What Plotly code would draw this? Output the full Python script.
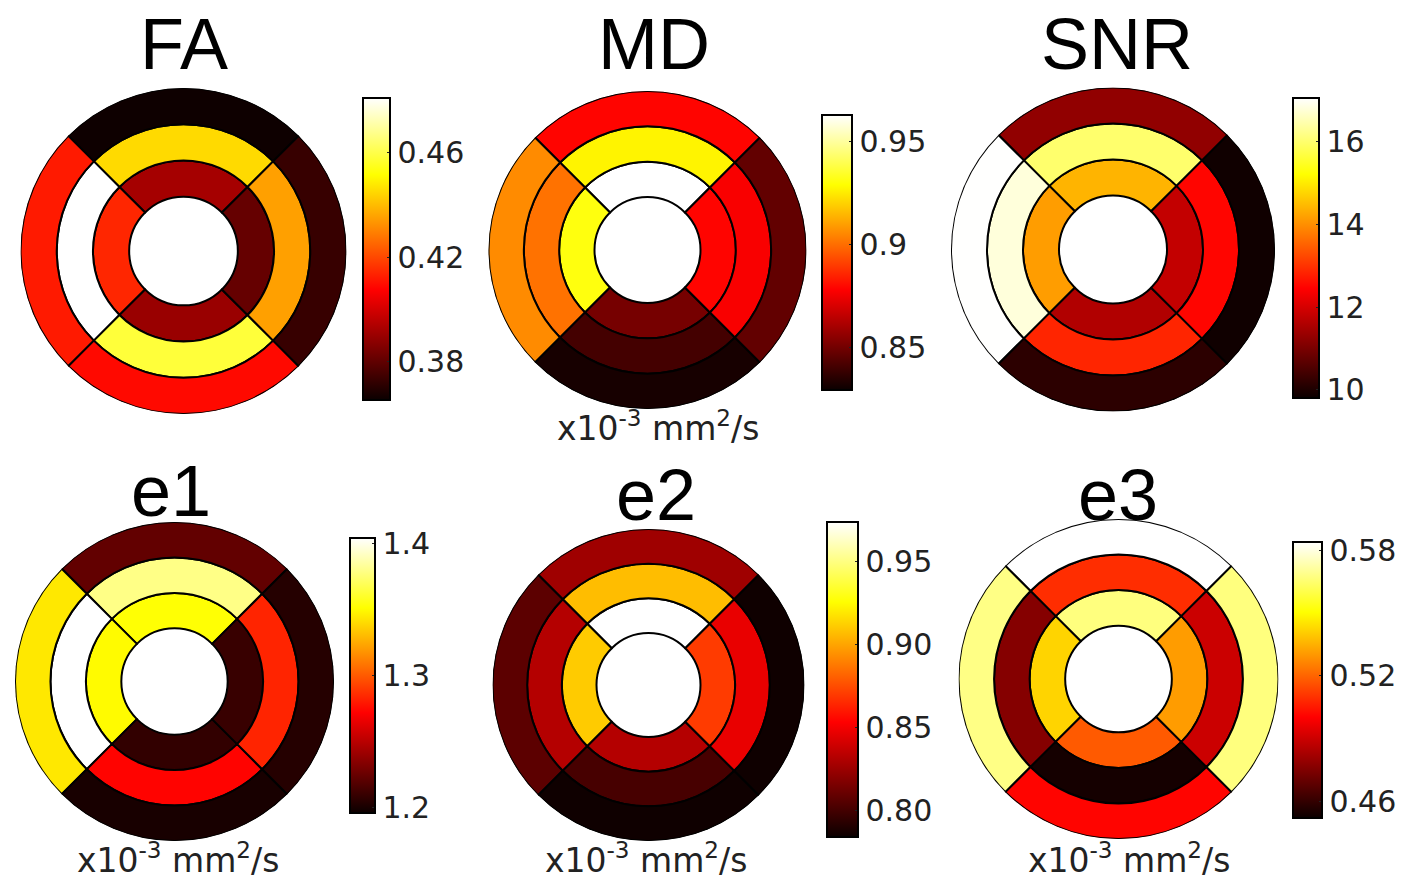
import plotly.graph_objects as go

# ---------------- data (sector order: top, left, bottom, right) ----------------
sector_theta = [90, 180, 270, 0]

fa_inner = [0.392, 0.414, 0.390, 0.381]
fa_middle = [0.445, 0.481, 0.458, 0.435]
fa_outer = [0.366, 0.412, 0.409, 0.373]
fa_range = [0.3655, 0.4806]
fa_ticks = [0.38, 0.42, 0.46]
fa_ticktext = ["0.38", "0.42", "0.46"]

md_inner = [0.963, 0.931, 0.851, 0.879]
md_middle = [0.927, 0.901, 0.841, 0.877]
md_outer = [0.879, 0.906, 0.832, 0.847]
md_range = [0.8296, 0.963]
md_ticks = [0.85, 0.90, 0.95]
md_ticktext = ["0.85", "0.9", "0.95"]

snr_inner = [14.4, 14.15, 11.6, 11.8]
snr_middle = [16.0, 16.8, 12.85, 12.5]
snr_outer = [11.25, 17.05, 10.16, 9.85]
snr_range = [9.8, 17.06]
snr_ticks = [10, 12, 14, 16]
snr_ticktext = ["10", "12", "14", "16"]

e1_inner = [1.352, 1.350, 1.208, 1.210]
e1_middle = [1.379, 1.404, 1.273, 1.283]
e1_outer = [1.223, 1.344, 1.200, 1.204]
e1_range = [1.196, 1.404]
e1_ticks = [1.2, 1.3, 1.4]
e1_ticktext = ["1.2", "1.3", "1.4"]

e2_inner = [0.974, 0.911, 0.832, 0.870]
e2_middle = [0.907, 0.832, 0.801, 0.847]
e2_outer = [0.826, 0.807, 0.785, 0.785]
e2_range = [0.784, 0.974]
e2_ticks = [0.80, 0.85, 0.90, 0.95]
e2_ticktext = ["0.80", "0.85", "0.90", "0.95"]

e3_inner = [0.567, 0.542, 0.518, 0.531]
e3_middle = [0.509, 0.476, 0.454, 0.490]
e3_outer = [0.584, 0.568, 0.501, 0.567]
e3_range = [0.452, 0.584]
e3_ticks = [0.46, 0.52, 0.58]
e3_ticktext = ["0.46", "0.52", "0.58"]

titles = ["FA", "MD", "SNR", "e1", "e2", "e3"]
unit_text = "x10<sup>-3</sup> mm<sup>2</sup>/s"

# ---------------- styling / layout helpers ----------------
W, H = 1402, 881
hot = [[0.0, "rgb(11,0,0)"], [0.365, "rgb(255,0,0)"],
       [0.746, "rgb(255,255,0)"], [1.0, "rgb(255,255,255)"]]
ring_base = [1.5, 2.5, 3.5]
ring_width = 1.0
title_family = "Liberation Sans, Arial, Helvetica, sans-serif"
label_family = "DejaVu Sans, Liberation Sans, sans-serif"

panels = [
    dict(vals=[fa_inner, fa_middle, fa_outer], rng=fa_range, tv=fa_ticks, tt=fa_ticktext,
         c=(183.5, 251), r=163, cb=(363, 98, 302, 27)),
    dict(vals=[md_inner, md_middle, md_outer], rng=md_range, tv=md_ticks, tt=md_ticktext,
         c=(647.5, 250), r=159, cb=(822, 115, 275, 30)),
    dict(vals=[snr_inner, snr_middle, snr_outer], rng=snr_range, tv=snr_ticks, tt=snr_ticktext,
         c=(1113, 249.5), r=162, cb=(1293, 98, 300, 26)),
    dict(vals=[e1_inner, e1_middle, e1_outer], rng=e1_range, tv=e1_ticks, tt=e1_ticktext,
         c=(174.5, 681.5), r=159.5, cb=(350, 538, 275, 25)),
    dict(vals=[e2_inner, e2_middle, e2_outer], rng=e2_range, tv=e2_ticks, tt=e2_ticktext,
         c=(648.5, 685), r=156, cb=(827, 522, 315, 31)),
    dict(vals=[e3_inner, e3_middle, e3_outer], rng=e3_range, tv=e3_ticks, tt=e3_ticktext,
         c=(1118.5, 679), r=160, cb=(1293, 542, 276, 29)),
]

title_pos = [(184, 44), (654, 44), (1117, 44), (171, 491), (656, 495), (1117.5, 495)]
unit_pos = [None, (657.5, 426), None, (178, 858), (646, 858), (1129, 858)]

fig = go.Figure()
layout_polars = {}
for i, p in enumerate(panels):
    name = "polar" if i == 0 else f"polar{i+1}"
    thetas, bases, colors = [], [], []
    for ring, vals in enumerate(p["vals"]):
        thetas += sector_theta
        bases += [ring_base[ring]] * 4
        colors += vals
    cbx, cby, cblen, cbthick = p["cb"]
    fig.add_trace(go.Barpolar(
        r=[ring_width] * len(thetas),
        base=bases,
        theta=thetas,
        width=[90] * len(thetas),
        marker=dict(
            color=colors, colorscale=hot, cmin=p["rng"][0], cmax=p["rng"][1],
            line=dict(color="black", width=2),
            colorbar=dict(
                x=cbx / W, y=1 - cby / H, xanchor="left", yanchor="top",
                len=cblen, lenmode="pixels", thickness=cbthick, thicknessmode="pixels",
                tickvals=p["tv"], ticktext=p["tt"], ticks="inside", ticklen=4,
                tickcolor="#222", outlinecolor="black", outlinewidth=2,
                tickfont=dict(size=30, color="#222", family=label_family),
                xpad=0, ypad=0,
            ),
        ),
        subplot=name,
        hoverinfo="skip",
        showlegend=False,
    ))
    cx, cy = p["c"]
    rad = p["r"]
    layout_polars[name] = dict(
        domain=dict(x=[(cx - rad) / W, (cx + rad) / W],
                    y=[1 - (cy + rad) / H, 1 - (cy - rad) / H]),
        radialaxis=dict(range=[0, 4.5], visible=False),
        angularaxis=dict(visible=False),
        bgcolor="white",
        bargap=0,
        hole=0,
    )

annotations = []
for i, t in enumerate(titles):
    x, y = title_pos[i]
    annotations.append(dict(text=t, x=x / W, y=1 - y / H, xref="paper", yref="paper",
                            xanchor="center", yanchor="middle", showarrow=False,
                            font=dict(size=72, color="black", family=title_family)))
    if unit_pos[i] is not None:
        ux, uy = unit_pos[i]
        annotations.append(dict(text=unit_text, x=ux / W, y=1 - uy / H, xref="paper",
                                yref="paper", xanchor="center", yanchor="middle",
                                showarrow=False,
                                font=dict(size=33, color="#222", family=label_family)))

fig.update_layout(
    width=W, height=H,
    margin=dict(l=0, r=0, t=0, b=0, autoexpand=False),
    paper_bgcolor="white", plot_bgcolor="white",
    annotations=annotations,
    **layout_polars,
)

fig.write_html("out.html", config={"displayModeBar": False},
               post_script="document.body.style.margin='0px';document.body.style.overflow='hidden';")
